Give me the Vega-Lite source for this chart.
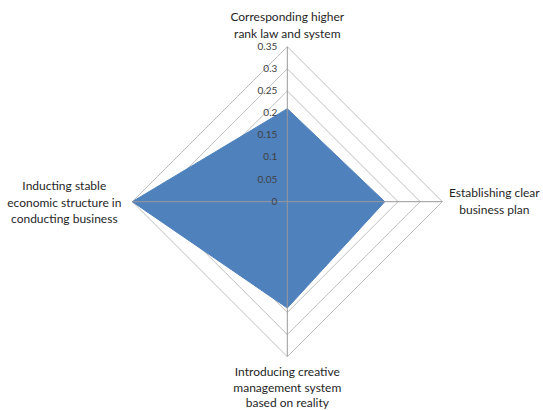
{
  "$schema": "https://vega.github.io/schema/vega-lite/v6.json",
  "width": 543,
  "height": 410,
  "padding": 0,
  "autosize": {"type": "none"},
  "background": "white",
  "config": {"view": {"stroke": null}},
  "datasets": {
    "values": [
      {"criterion": "Corresponding higher rank law and system", "lines": ["Corresponding higher", "rank law and system"], "order": 0, "value": 0.21},
      {"criterion": "Establishing clear business plan", "lines": ["Establishing clear", "business plan"], "order": 1, "value": 0.22},
      {"criterion": "Introducing creative management system based on reality", "lines": ["Introducing creative", "management system", "based on reality"], "order": 2, "value": 0.24},
      {"criterion": "Inducting stable economic structure in conducting business", "lines": ["Inducting stable", "economic structure in", "conducting business"], "order": 3, "value": 0.35}
    ],
    "levels": [
      {"level": 0},
      {"level": 0.05},
      {"level": 0.1},
      {"level": 0.15},
      {"level": 0.2},
      {"level": 0.25},
      {"level": 0.3},
      {"level": 0.35}
    ]
  },
  "layer": [
    {
      "data": {"name": "levels"},
      "transform": [
        {"filter": "datum.level > 0"},
        {"calculate": "[0,1,2,3]", "as": "side"},
        {"flatten": ["side"]},
        {"calculate": "datum.level * sin(datum.side * PI / 2)", "as": "gx"},
        {"calculate": "datum.level * cos(datum.side * PI / 2)", "as": "gy"},
        {"calculate": "datum.level * sin((datum.side + 1) * PI / 2)", "as": "gx2"},
        {"calculate": "datum.level * cos((datum.side + 1) * PI / 2)", "as": "gy2"}
      ],
      "mark": {"type": "rule", "stroke": "#BFBFBF", "strokeWidth": 1},
      "encoding": {
        "x": {"field": "gx", "type": "quantitative", "scale": {"domain": [-0.6487, 0.5773], "nice": false, "zero": false}, "axis": null},
        "y": {"field": "gy", "type": "quantitative", "scale": {"domain": [-0.4703, 0.4554], "nice": false, "zero": false}, "axis": null},
        "x2": {"field": "gx2"},
        "y2": {"field": "gy2"}
      }
    },
    {
      "data": {"name": "values"},
      "transform": [
        {"calculate": "datum.value * sin(datum.order * PI / 2)", "as": "px"},
        {"calculate": "datum.value * cos(datum.order * PI / 2)", "as": "py"}
      ],
      "mark": {"type": "line", "fill": "#4F81BD", "stroke": "#4F81BD", "strokeWidth": 1, "interpolate": "linear-closed"},
      "encoding": {
        "x": {"field": "px", "type": "quantitative"},
        "y": {"field": "py", "type": "quantitative"},
        "order": {"field": "order", "type": "quantitative"}
      }
    },
    {
      "data": {"name": "values"},
      "transform": [
        {"calculate": "0.35 * sin(datum.order * PI / 2)", "as": "sx"},
        {"calculate": "0.35 * cos(datum.order * PI / 2)", "as": "sy"}
      ],
      "mark": {"type": "rule", "stroke": "#999999", "strokeWidth": 1},
      "encoding": {
        "x": {"field": "sx", "type": "quantitative"},
        "y": {"field": "sy", "type": "quantitative"},
        "x2": {"datum": 0},
        "y2": {"datum": 0}
      }
    },
    {
      "data": {"name": "levels"},
      "mark": {"type": "text", "align": "right", "baseline": "middle", "dx": -10, "font": "Lato", "fontSize": 10, "fill": "#404040"},
      "encoding": {
        "x": {"datum": 0},
        "y": {"field": "level", "type": "quantitative"},
        "text": {"field": "level", "type": "quantitative", "format": ".2~f"}
      }
    },
    {
      "data": {"name": "values"},
      "transform": [
        {"filter": "datum.order == 0"},
        {"calculate": "0.35 * sin(datum.order * PI / 2)", "as": "lx"},
        {"calculate": "0.35 * cos(datum.order * PI / 2)", "as": "ly"}
      ],
      "mark": {"type": "text", "align": "center", "baseline": "bottom", "dy": -23, "lineHeight": 17, "font": "Lato", "fontSize": 12, "fill": "#1F1F1F"},
      "encoding": {
        "x": {"field": "lx", "type": "quantitative"},
        "y": {"field": "ly", "type": "quantitative"},
        "text": {"field": "lines"}
      }
    },
    {
      "data": {"name": "values"},
      "transform": [
        {"filter": "datum.order == 1"},
        {"calculate": "0.35 * sin(datum.order * PI / 2)", "as": "lx"},
        {"calculate": "0.35 * cos(datum.order * PI / 2)", "as": "ly"}
      ],
      "mark": {"type": "text", "align": "center", "baseline": "middle", "dx": 52, "dy": -8.5, "lineHeight": 17, "font": "Lato", "fontSize": 12, "fill": "#1F1F1F"},
      "encoding": {
        "x": {"field": "lx", "type": "quantitative"},
        "y": {"field": "ly", "type": "quantitative"},
        "text": {"field": "lines"}
      }
    },
    {
      "data": {"name": "values"},
      "transform": [
        {"filter": "datum.order == 2"},
        {"calculate": "0.35 * sin(datum.order * PI / 2)", "as": "lx"},
        {"calculate": "0.35 * cos(datum.order * PI / 2)", "as": "ly"}
      ],
      "mark": {"type": "text", "align": "center", "baseline": "top", "dy": 10.5, "lineHeight": 15.5, "font": "Lato", "fontSize": 12, "fill": "#1F1F1F"},
      "encoding": {
        "x": {"field": "lx", "type": "quantitative"},
        "y": {"field": "ly", "type": "quantitative"},
        "text": {"field": "lines"}
      }
    },
    {
      "data": {"name": "values"},
      "transform": [
        {"filter": "datum.order == 3"},
        {"calculate": "0.35 * sin(datum.order * PI / 2)", "as": "lx"},
        {"calculate": "0.35 * cos(datum.order * PI / 2)", "as": "ly"}
      ],
      "mark": {"type": "text", "align": "center", "baseline": "middle", "dx": -68, "dy": -15.5, "lineHeight": 16.5, "font": "Lato", "fontSize": 12, "fill": "#1F1F1F"},
      "encoding": {
        "x": {"field": "lx", "type": "quantitative"},
        "y": {"field": "ly", "type": "quantitative"},
        "text": {"field": "lines"}
      }
    }
  ]
}
